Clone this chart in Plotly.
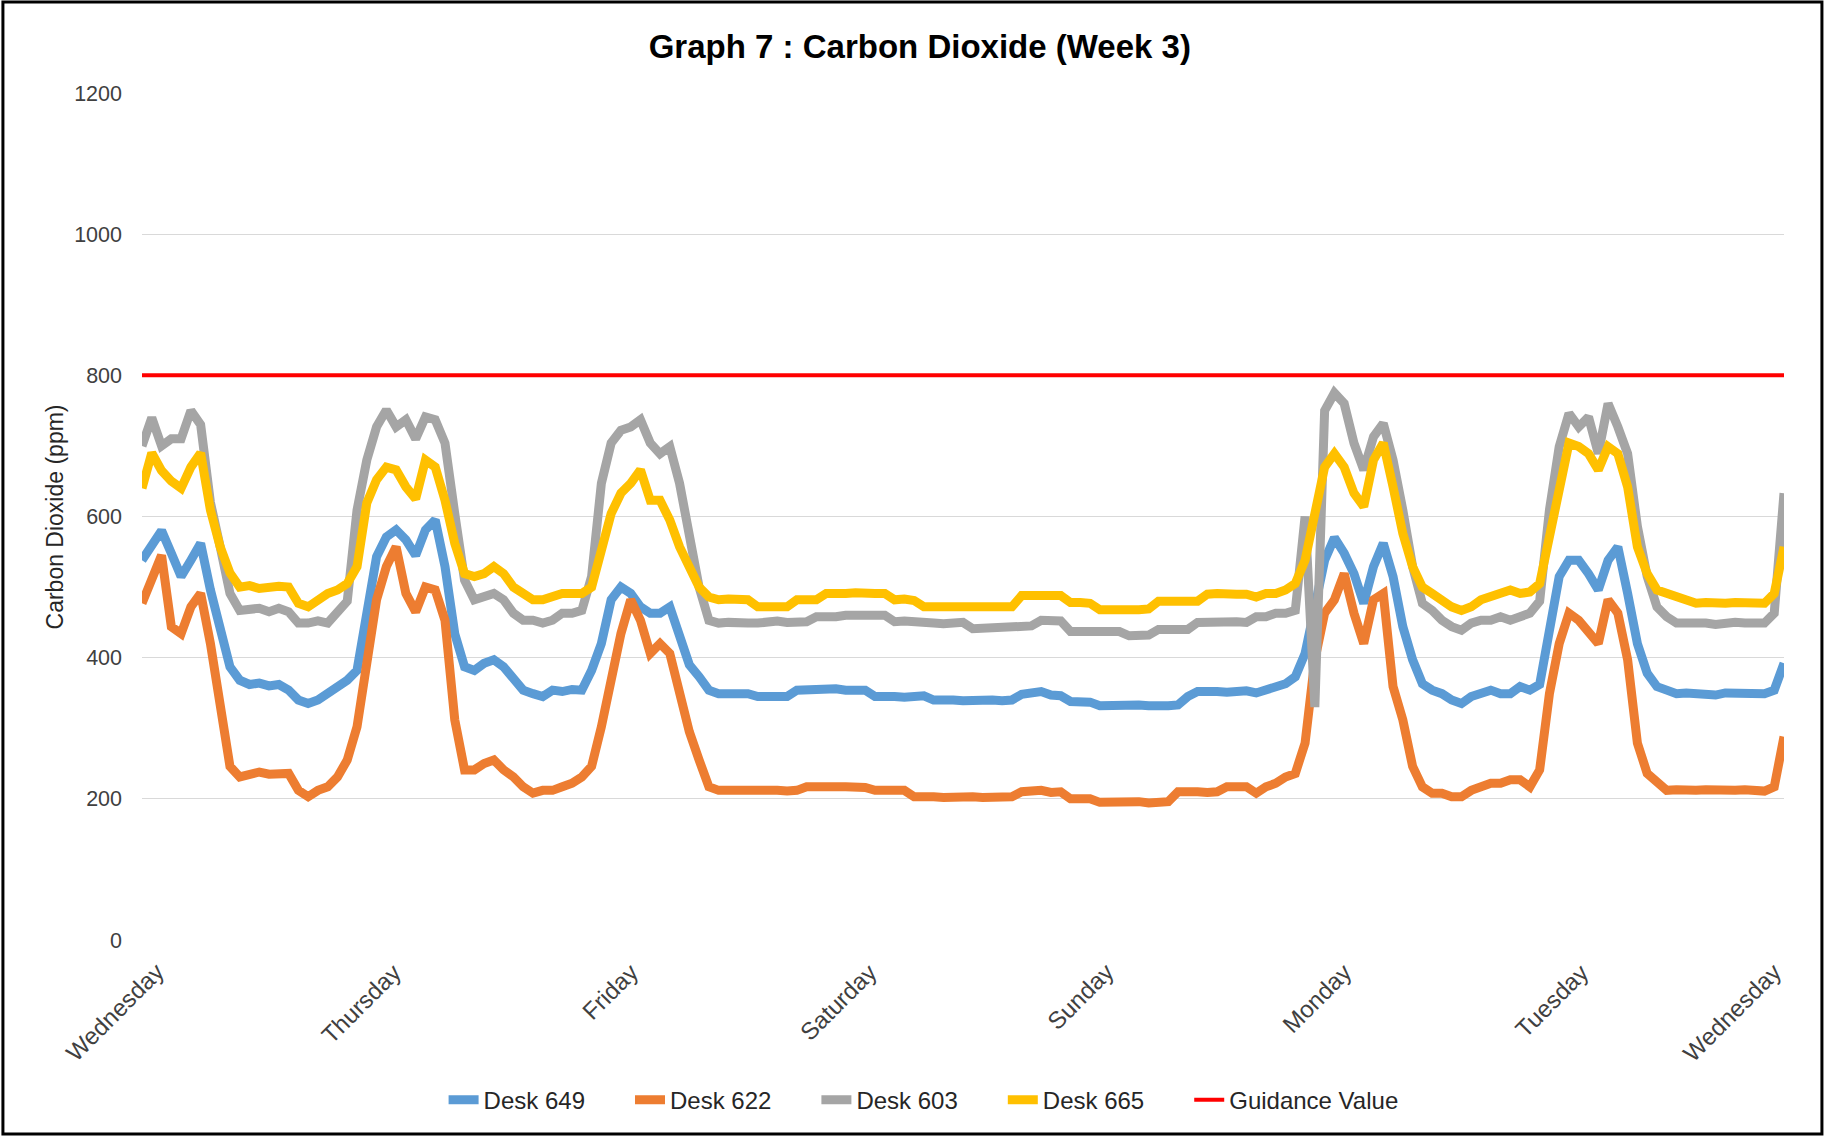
import plotly.graph_objs as go

# hourly readings, Wednesday 00:00 to the following Wednesday 00:00
hours = list(range(169))
day_labels = ['Wednesday', 'Thursday', 'Friday', 'Saturday', 'Sunday', 'Monday', 'Tuesday', 'Wednesday']

desk_649 = [
    538, 557, 580, 548, 515, 538, 562, 496, 444, 387, 368, 362, 364, 360, 362, 354, 340, 335, 340, 349, 359, 368, 382, 467,
    543, 571, 581, 567, 545, 581, 595, 529, 434, 387, 382, 392, 397, 387, 368, 354, 349, 345, 354, 352, 355, 354, 382, 420,
    482, 500, 491, 472, 463, 463, 472, 430, 390, 373, 354, 349, 350, 348, 349, 345, 346, 344, 345, 354, 355, 353, 354, 356,
    354, 353, 354, 345, 346, 345, 344, 345, 346, 340, 341, 340, 339, 340, 341, 340, 339, 340, 348, 349, 352, 347, 346, 338,
    338, 337, 332, 333, 331, 332, 333, 332, 331, 332, 333, 345, 352, 353, 352, 351, 352, 353, 350, 354, 359, 363, 373, 406,
    472, 538, 570, 548, 519, 477, 529, 562, 515, 444, 397, 363, 354, 349, 340, 335, 345, 349, 354, 349, 349, 359, 354, 362,
    444, 515, 538, 538, 519, 496, 538, 557, 491, 420, 378, 359, 354, 349, 350, 348, 349, 347, 350, 349, 348, 350, 349, 354,
    392,
]

desk_622 = [
    477, 515, 545, 444, 434, 472, 491, 420, 326, 246, 231, 236, 238, 235, 236, 236, 212, 203, 212, 217, 231, 255, 302, 397,
    482, 529, 557, 491, 465, 500, 496, 453, 312, 241, 241, 250, 255, 241, 231, 217, 208, 212, 212, 217, 222, 231, 246, 302,
    368, 434, 482, 453, 406, 420, 406, 349, 295, 255, 217, 212, 213, 211, 212, 212, 213, 212, 211, 212, 217, 218, 216, 217,
    217, 218, 216, 212, 213, 211, 212, 203, 204, 203, 202, 203, 204, 203, 202, 203, 204, 203, 210, 211, 212, 209, 210, 200,
    201, 200, 195, 196, 194, 195, 196, 194, 195, 196, 210, 211, 210, 209, 210, 217, 216, 217, 208, 217, 222, 231, 236, 279,
    397, 463, 482, 519, 463, 420, 482, 491, 359, 312, 246, 217, 208, 208, 203, 203, 212, 217, 222, 222, 227, 227, 217, 241,
    349, 420, 463, 453, 434, 420, 482, 463, 397, 279, 236, 222, 212, 213, 211, 212, 213, 212, 211, 212, 213, 212, 211, 217,
    288,
]

desk_603 = [
    700, 740, 700, 710, 710, 750, 730, 620, 557, 491, 467, 468, 470, 465, 470, 465, 449, 449, 452, 449, 463, 480, 609, 680,
    727, 751, 727, 737, 710, 741, 737, 704, 604, 510, 482, 486, 491, 482, 463, 453, 453, 449, 453, 463, 463, 467, 515, 647,
    704, 722, 727, 737, 704, 689, 699, 647, 570, 500, 453, 449, 450, 448, 449, 449, 451, 452, 450, 451, 451, 458, 457, 458,
    460, 461, 459, 460, 460, 451, 452, 450, 451, 449, 448, 449, 450, 441, 442, 440, 441, 445, 446, 445, 453, 454, 452, 437,
    437, 436, 438, 437, 437, 431, 430, 432, 440, 441, 439, 440, 450, 451, 449, 450, 451, 450, 458, 458, 463, 463, 467, 600,
    330, 750, 775, 760, 704, 666, 713, 732, 680, 609, 529, 477, 467, 453, 444, 439, 449, 453, 453, 458, 453, 458, 463, 480,
    609, 699, 746, 727, 741, 689, 760, 727, 689, 586, 515, 472, 458, 449, 450, 448, 449, 447, 449, 450, 449, 448, 449, 463,
    633,
]

desk_665 = [
    640, 690, 665, 650, 640, 670, 690, 609, 557, 520, 500, 502, 498, 500, 501, 500, 477, 472, 482, 491, 496, 505, 529, 619,
    652, 670, 666, 642, 625, 680, 670, 623, 562, 519, 515, 519, 529, 519, 500, 491, 482, 482, 486, 491, 491, 491, 500, 557,
    604, 633, 647, 666, 623, 623, 595, 557, 529, 500, 486, 482, 483, 481, 482, 472, 473, 471, 472, 482, 483, 482, 491, 490,
    491, 492, 490, 491, 491, 482, 483, 481, 472, 473, 471, 472, 472, 472, 473, 471, 472, 472, 488, 489, 487, 488, 488, 478,
    478, 477, 468, 469, 467, 468, 468, 469, 480, 481, 479, 480, 480, 490, 491, 489, 490, 490, 486, 491, 491, 496, 505, 538,
    600, 670, 689, 670, 633, 614, 680, 704, 642, 576, 529, 500, 491, 482, 472, 467, 472, 482, 486, 491, 496, 491, 493, 505,
    576, 642, 704, 699, 689, 666, 699, 689, 642, 557, 519, 496, 491, 486, 482, 477, 478, 476, 477, 478, 477, 476, 477, 491,
    557,
]

guidance_hours = [0, 168]
guidance_value = [800, 800]

font = 'Liberation Sans, Arial, sans-serif'
pad = '\u00a0' * 6  # extra room between legend entries, as in the original

fig = go.Figure()
fig.add_trace(go.Scatter(x=hours, y=desk_649, mode='lines', name='Desk 649' + pad,
                         line=dict(color='#5B9BD5', width=9)))
fig.add_trace(go.Scatter(x=hours, y=desk_622, mode='lines', name='Desk 622' + pad,
                         line=dict(color='#ED7D31', width=9)))
fig.add_trace(go.Scatter(x=hours, y=desk_603, mode='lines', name='Desk 603' + pad,
                         line=dict(color='#A5A5A5', width=9)))
fig.add_trace(go.Scatter(x=hours, y=desk_665, mode='lines', name='Desk 665' + pad,
                         line=dict(color='#FFC000', width=9)))
fig.add_trace(go.Scatter(x=guidance_hours, y=guidance_value, mode='lines', name='Guidance Value',
                         line=dict(color='#FF0000', width=4)))

fig.update_layout(
    width=1825, height=1137,
    margin=dict(l=142, r=41, t=93, b=197),
    paper_bgcolor='white', plot_bgcolor='white',
    font=dict(family=font, color='#262626'),
    title=dict(text='<b>Graph 7 : Carbon Dioxide (Week 3)</b>', x=0.504, xanchor='center',
               y=1 - 46 / 1137, yanchor='middle', font=dict(size=33, color='black')),
    legend=dict(orientation='h', x=0.476, xanchor='center', y=-0.189, yanchor='middle',
                font=dict(size=24)),
    showlegend=True,
)
fig.update_yaxes(range=[0, 1200], dtick=200, showgrid=True, gridcolor='#D9D9D9', gridwidth=1,
                 zeroline=False, showline=False, ticks='', tickfont=dict(size=21.5, color='#404040'),
                 ticklabelstandoff=19)
fig.update_xaxes(range=[0, 168], showticklabels=False, showgrid=False, zeroline=False,
                 showline=False, ticks='')

# day labels: the original's category labels step a little wider than a day and
# the last one is pulled back inside the plot
for i, label in enumerate(day_labels):
    end_hour = min(2.5 + 24.3 * i, 168)
    fig.add_annotation(text=label, x=end_hour, xref='x', y=-0.0187, yref='paper', textangle=-45,
                       xanchor='right', yanchor='top', xshift=5, showarrow=False,
                       font=dict(size=24, color='#404040'))

fig.add_annotation(text='Carbon Dioxide (ppm)', xref='paper', yref='paper', x=-0.053, y=0.5,
                   xanchor='center', yanchor='middle', textangle=-90, showarrow=False,
                   font=dict(size=23, color='#262626'))

# chart frame
fig.add_shape(type='rect', xref='paper', yref='paper', x0=-0.0847, x1=1.0231, y0=-0.229, y1=1.1074,
              line=dict(color='black', width=3))

fig.write_html('out.html', config={'displayModeBar': False},
               post_script="document.body.style.margin='0';")
